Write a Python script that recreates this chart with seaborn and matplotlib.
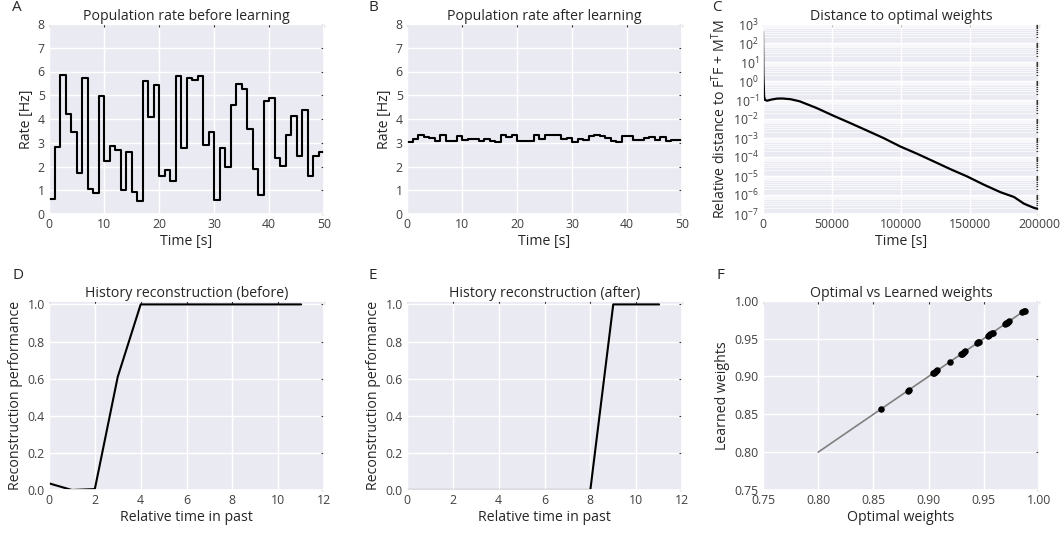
import numpy as np
import pandas as pd
import seaborn as sns
import matplotlib.pyplot as plt
from matplotlib.ticker import LogLocator, NullFormatter

# %% data
# population rate, one value per second (0..49)
rate_before = [0.63, 2.84, 5.87, 4.22, 3.45, 1.73, 5.73, 1.05, 0.88, 4.95,
               2.25, 2.85, 2.71, 1.02, 2.61, 0.91, 0.56, 5.59, 4.08, 5.42,
               1.59, 1.87, 1.40, 5.82, 2.78, 5.73, 5.66, 5.80, 2.92, 3.45,
               0.60, 2.78, 1.98, 4.60, 5.49, 5.26, 3.58, 1.91, 0.79, 4.74,
               4.88, 2.36, 2.03, 3.34, 4.11, 2.43, 4.39, 1.61, 2.43, 2.60]
rate_after = [3.02, 3.16, 3.34, 3.24, 3.20, 3.09, 3.33, 3.06, 3.06, 3.30,
              3.13, 3.16, 3.16, 3.07, 3.16, 3.06, 3.02, 3.31, 3.25, 3.31,
              3.09, 3.09, 3.09, 3.34, 3.16, 3.33, 3.33, 3.33, 3.16, 3.20,
              3.02, 3.16, 3.10, 3.27, 3.31, 3.30, 3.20, 3.09, 3.03, 3.27,
              3.27, 3.12, 3.10, 3.20, 3.24, 3.13, 3.25, 3.09, 3.13, 3.13]
tempo = list(range(51))

dist_time = [0, 300, 800, 1500, 3000, 6000, 10000, 14000, 20000, 26667,
             38788, 50909, 63030, 75152, 87273, 99394, 111515, 123636,
             135758, 147879, 160000, 172121, 181818, 189091, 196364, 200000]
dist_val = [410, 2.0, 0.15, 0.1, 0.092, 0.105, 0.118, 0.12, 0.11, 0.085,
            0.038, 0.015, 0.0062, 0.0025, 0.001, 0.00036, 0.00015, 5.9e-5,
            2.3e-5, 9.5e-6, 3.5e-6, 1.4e-6, 7.9e-7, 3.5e-7, 2.1e-7, 1.8e-7]

past = list(range(12))
recon_before = [0.036, 0.0, 0.005, 0.61, 1.0, 1.0, 1.0, 1.0, 1.0, 1.0, 1.0, 1.0]
recon_after = [0.0, 0.0, 0.0, 0.0, 0.0, 0.0, 0.0, 0.0, 0.0, 1.0, 1.0, 1.0]

w_optimal = [0.857, 0.881, 0.882, 0.904, 0.905, 0.906, 0.907, 0.908, 0.919,
             0.929, 0.930, 0.931, 0.932, 0.933, 0.944, 0.945, 0.946, 0.954,
             0.955, 0.956, 0.957, 0.958, 0.969, 0.970, 0.971, 0.972, 0.973,
             0.985, 0.986, 0.987]
w_learned = [0.857, 0.881, 0.882, 0.904, 0.905, 0.906, 0.907, 0.908, 0.919,
             0.929, 0.930, 0.931, 0.932, 0.933, 0.944, 0.945, 0.946, 0.954,
             0.955, 0.956, 0.957, 0.958, 0.969, 0.970, 0.971, 0.972, 0.973,
             0.985, 0.986, 0.987]
diag = [0.80, 0.987]

# %% estilo
sns.set_theme(style="darkgrid")
plt.rcParams['font.family'] = ['Open Sans', 'DejaVu Sans']
plt.rcParams['mathtext.fontset'] = 'custom'
plt.rcParams['mathtext.rm'] = 'Open Sans'
plt.rcParams['mathtext.it'] = 'Open Sans:italic'
plt.rcParams['mathtext.bf'] = 'Open Sans:bold'

W, H = 1061, 537
fig = plt.figure(figsize=(W / 100, H / 100), dpi=100)

def eixo(left, top, right, bottom):
    return fig.add_axes([left / W, 1 - bottom / H, (right - left) / W, (bottom - top) / H])

def acabamento(ax, title, xlabel, ylabel):
    ax.set_title(title, fontsize=10.2, pad=3, color='.15')
    ax.set_xlabel(xlabel, fontsize=10.2, labelpad=2, color='.15')
    ax.set_ylabel(ylabel, fontsize=10.2, labelpad=3, color='.15')
    ax.tick_params(which='both', direction='in', length=2, width=0.8,
                   color='.2', top=True, right=True, labelsize=8.8, pad=3,
                   labelcolor='.25')

cols = [(49, 324), (407, 682), (763, 1039)]
row1 = (24, 214)
row2 = (300.7, 490)

# A
ax = eixo(cols[0][0], row1[0], cols[0][1], row1[1])
df = pd.DataFrame({"t": tempo, "rate": rate_before + rate_before[-1:]})
sns.lineplot(data=df, x="t", y="rate", drawstyle="steps-post", color="black", linewidth=1.5, ax=ax)
ax.set_xlim(0, 50)
ax.set_ylim(0, 8)
ax.set_xticks(range(0, 51, 10))
ax.set_yticks(range(0, 9))
acabamento(ax, "Population rate before learning", "Time [s]", "Rate [Hz]")

# B
ax = eixo(cols[1][0], row1[0], cols[1][1], row1[1])
df = pd.DataFrame({"t": tempo, "rate": rate_after + rate_after[-1:]})
sns.lineplot(data=df, x="t", y="rate", drawstyle="steps-post", color="black", linewidth=1.5, ax=ax)
ax.set_xlim(0, 50)
ax.set_ylim(0, 8)
ax.set_xticks(range(0, 51, 10))
ax.set_yticks(range(0, 9))
acabamento(ax, "Population rate after learning", "Time [s]", "Rate [Hz]")

# C
ax = eixo(cols[2][0], row1[0], cols[2][1], row1[1])
df = pd.DataFrame({"t": dist_time, "d": dist_val})
sns.lineplot(data=df, x="t", y="d", color="black", linewidth=1.6, ax=ax)
ax.set_yscale("log")
ax.set_xlim(0, 200000)
ax.set_ylim(1e-7, 1e3)
ax.set_xticks(range(0, 200001, 50000))
ax.yaxis.set_major_locator(LogLocator(base=10, numticks=20))
ax.yaxis.set_minor_locator(LogLocator(base=10, subs=np.arange(2, 10), numticks=20))
ax.yaxis.set_minor_formatter(NullFormatter())
ax.grid(which='minor', axis='y', color='white', linewidth=0.5)
acabamento(ax, "Distance to optimal weights", "Time [s]",
           r"Relative distance to F$^{\mathrm{T}}$F + M$^{\mathrm{T}}$M")

# D
ax = eixo(cols[0][0], row2[0], cols[0][1], row2[1])
df = pd.DataFrame({"p": past, "r": recon_before})
sns.lineplot(data=df, x="p", y="r", color="black", linewidth=1.5, ax=ax)
ax.set_xlim(0, 12)
ax.set_ylim(0, 1.02)
ax.set_xticks(range(0, 13, 2))
ax.set_yticks(np.arange(0, 1.01, 0.2))
ax.set_yticklabels([f"{v:.1f}" for v in np.arange(0, 1.01, 0.2)])
acabamento(ax, "History reconstruction (before)", "Relative time in past", "Reconstruction performance")

# E
ax = eixo(cols[1][0], row2[0], cols[1][1], row2[1])
df = pd.DataFrame({"p": past, "r": recon_after})
sns.lineplot(data=df, x="p", y="r", color="black", linewidth=1.5, ax=ax)
ax.set_xlim(0, 12)
ax.set_ylim(0, 1.02)
ax.set_xticks(range(0, 13, 2))
ax.set_yticks(np.arange(0, 1.01, 0.2))
ax.set_yticklabels([f"{v:.1f}" for v in np.arange(0, 1.01, 0.2)])
acabamento(ax, "History reconstruction (after)", "Relative time in past", "Reconstruction performance")

# F
ax = eixo(cols[2][0], row2[0], cols[2][1], row2[1])
sns.lineplot(x=diag, y=diag, color="gray", linewidth=1.2, ax=ax)
sns.scatterplot(x=w_optimal, y=w_learned, color="black", s=22, linewidth=0, ax=ax, zorder=3)
ax.set_xlim(0.75, 1.0)
ax.set_ylim(0.75, 1.0)
ticks = np.arange(0.75, 1.001, 0.05)
ax.set_xticks(ticks)
ax.set_yticks(ticks)
ax.set_xticklabels([f"{v:.2f}" for v in ticks])
ax.set_yticklabels([f"{v:.2f}" for v in ticks])
acabamento(ax, "Optimal vs Learned weights", "Optimal weights", "Learned weights")

# letras dos paineis
for letra, x, y in [("A", 12, 0), ("B", 368, 0), ("C", 712, 0),
                    ("D", 12, 268), ("E", 368, 268), ("F", 716, 268)]:
    fig.text(x / W, 1 - y / H, letra, fontsize=11, va="top", ha="left", color=".15")

fig.savefig("out.png", dpi=100)
